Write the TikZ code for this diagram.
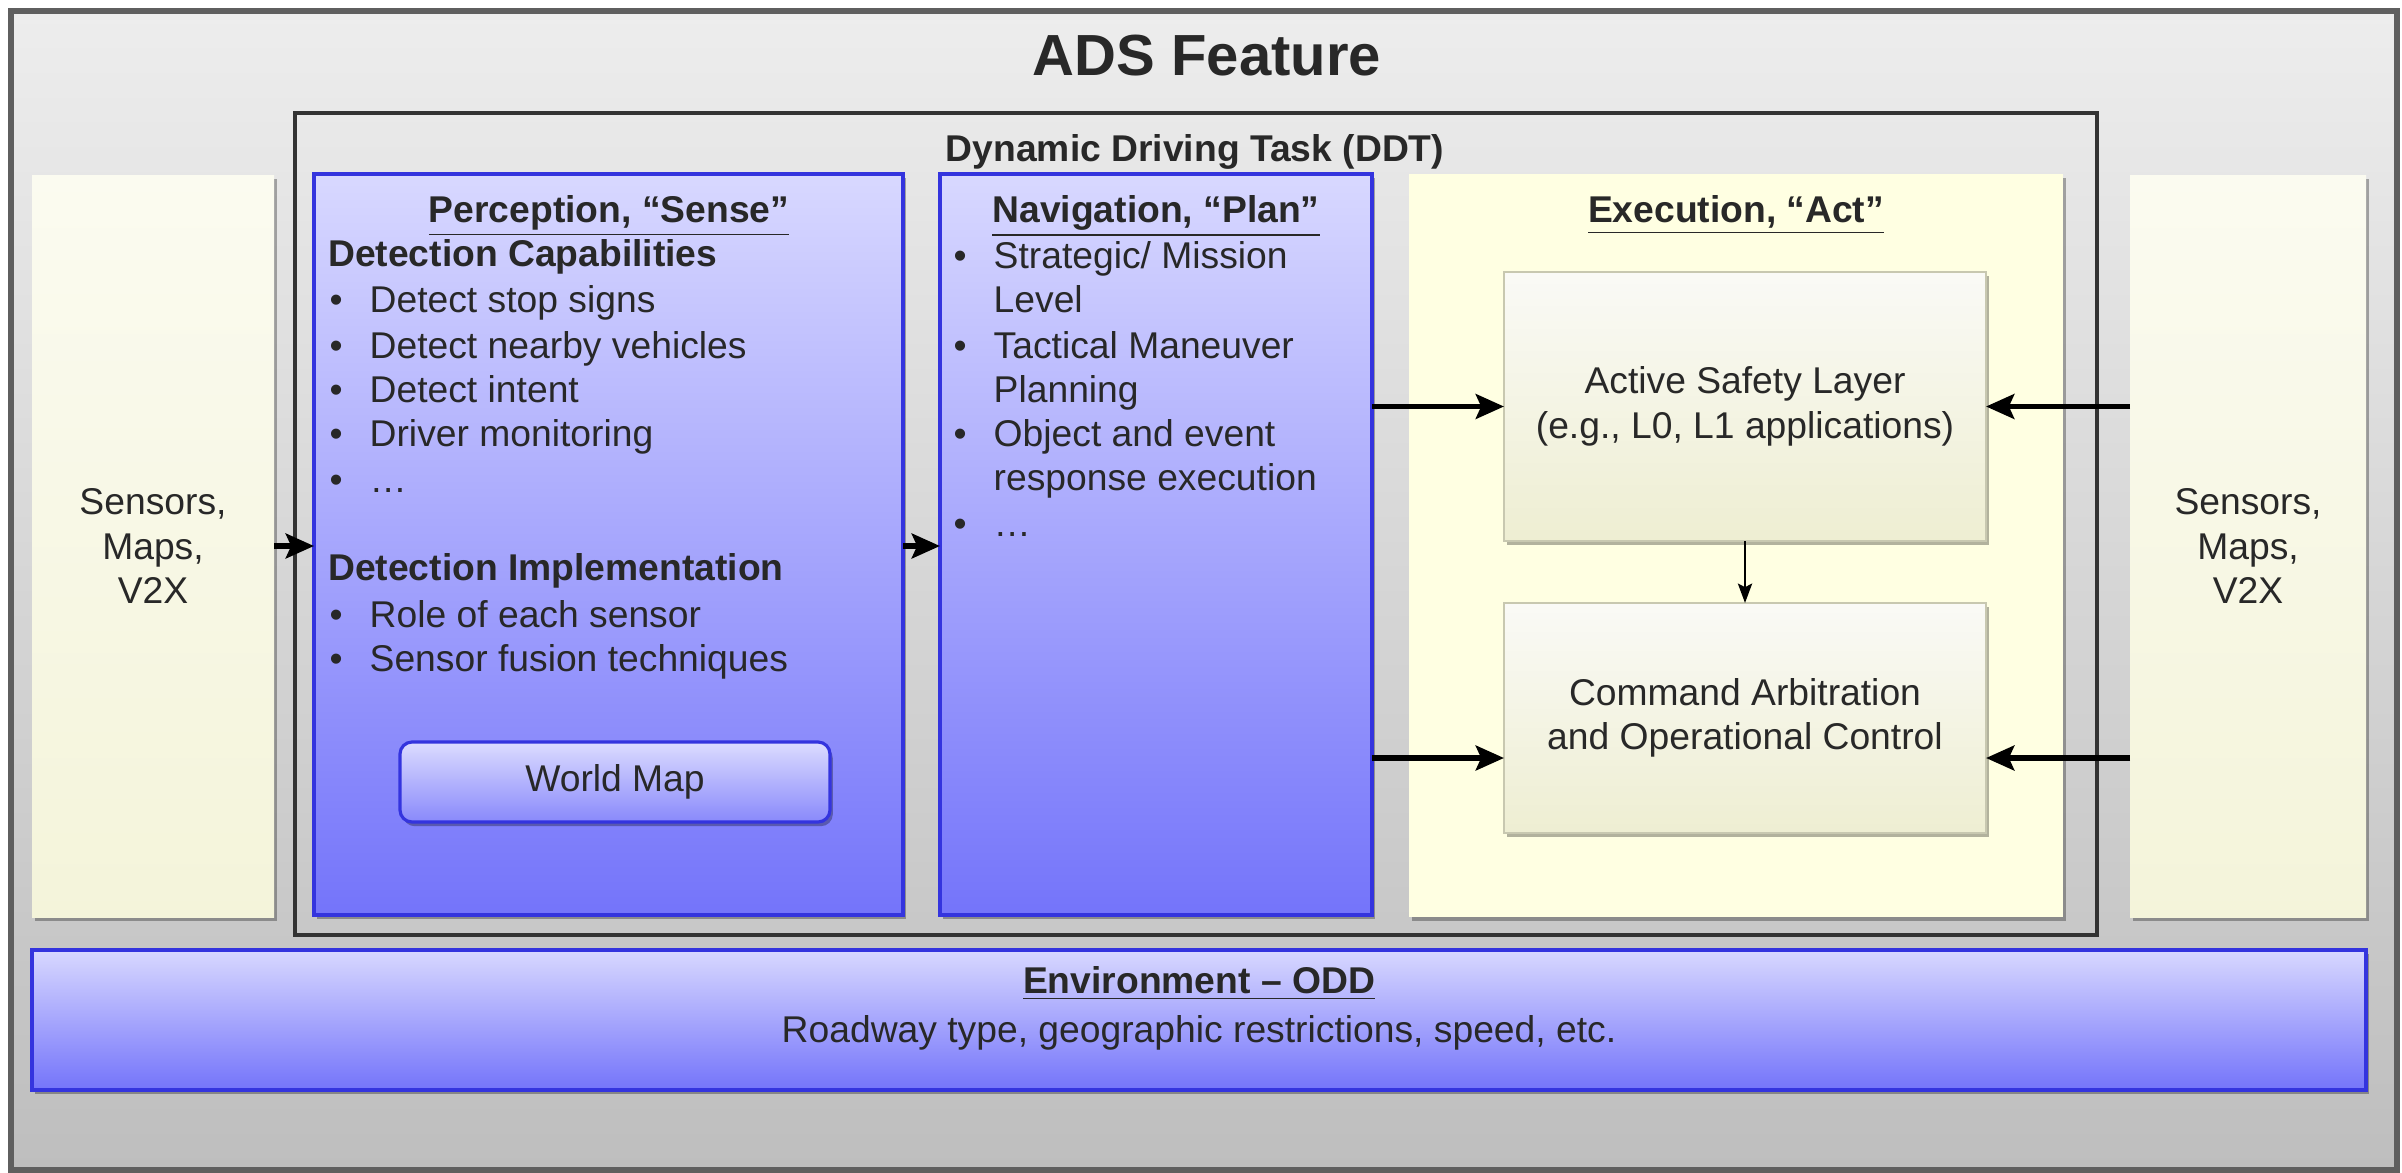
\documentclass[tikz,border=0pt]{standalone}
\usepackage{fontspec}
\setmainfont{Liberation Sans}
\usepackage{tikz}
\usetikzlibrary{arrows.meta}
\usetikzlibrary{calc}
\usetikzlibrary{shadows}

\definecolor{framegray}{RGB}{95,95,95}
\definecolor{bgtop}{RGB}{237,237,237}
\definecolor{bgbottom}{RGB}{190,190,190}
\definecolor{bluetop}{RGB}{216,216,255}
\definecolor{bluebottom}{RGB}{116,116,250}
\definecolor{blueline}{RGB}{52,52,222}
\definecolor{creamtop}{RGB}{251,251,240}
\definecolor{creambottom}{RGB}{244,244,218}
\definecolor{actfill}{RGB}{255,255,226}
\definecolor{laytop}{RGB}{250,250,246}
\definecolor{laybottom}{RGB}{238,238,210}
\definecolor{layline}{RGB}{200,200,176}
\definecolor{txtgray}{RGB}{40,40,40}

\newcommand{\adsbody}{\fontsize{10.6}{12.6}\selectfont}
\newcommand{\adsbig}{\fontsize{16.5}{19}\selectfont\bfseries}
\newcommand{\adsitem}{\makebox[0.40cm][l]{\textbullet}}

\begin{document}
\begin{tikzpicture}[x=1cm, y=-1cm,
    box/.style={anchor=north west, inner sep=0pt, outer sep=0pt},
    boxshadow/.style={drop shadow={shadow xshift=0.8pt, shadow yshift=-1.2pt, opacity=0.3, fill=black}},
    bluebox/.style={box, boxshadow, draw=blueline, line width=0.9pt, top color=bluetop, bottom color=bluebottom},
    creambox/.style={box, boxshadow, top color=creamtop, bottom color=creambottom, text=txtgray, font=\adsbody, align=center},
    layerbox/.style={box, boxshadow, draw=layline, line width=0.5pt, top color=laytop, bottom color=laybottom, text=txtgray, font=\adsbody, align=center},
    txt/.style={anchor=base west, inner sep=0pt, text=txtgray, font=\adsbody},
    head/.style={anchor=base, inner sep=0pt, text=txtgray, font=\adsbody\bfseries},
    bigarrow/.style={line width=1.7pt, -{Stealth[length=8pt, width=7pt, inset=1.5pt]}},
    thinarrow/.style={line width=0.8pt, -{Stealth[length=5.5pt, width=4pt, inset=1pt]}}
  ]
  \useasboundingbox (0,0) rectangle (24.02,11.72);

  \node[box, draw=framegray, line width=1.5pt, top color=bgtop, bottom color=bgbottom,
    minimum width=23.86cm, minimum height=11.59cm] (ads) at (0.11,0.11) {};
  \node[anchor=base, inner sep=0pt, text=txtgray, font=\adsbig] (adstitle) at (12.07,0.75) {ADS Feature};

  \node[box, draw=black!80, line width=1.2pt, minimum width=18.02cm, minimum height=8.22cm] (ddt) at (2.95,1.13) {};
  \node[head] (ddttitle) at (11.95,1.61) {Dynamic Driving Task (DDT)};

  \node[creambox, minimum width=2.42cm, minimum height=7.42cm] (lsens) at (0.32,1.75) {Sensors,\\Maps,\\V2X};
  \node[creambox, minimum width=2.36cm, minimum height=7.42cm] (rsens) at (21.30,1.75) {Sensors,\\Maps,\\V2X};

  \node[bluebox, minimum width=5.89cm, minimum height=7.41cm] (perc) at (3.14,1.74) {};
  \node[head] (perctitle) at (6.09,2.22) {\underline{Perception, “Sense”}};
  \node[txt, font=\adsbody\bfseries] (pcap) at (3.275,2.66) {Detection Capabilities};
  \node[txt] (pcap1) at (3.29,3.12) {\adsitem Detect stop signs};
  \node[txt] (pcap2) at (3.29,3.58) {\adsitem Detect nearby vehicles};
  \node[txt] (pcap3) at (3.29,4.02) {\adsitem Detect intent};
  \node[txt] (pcap4) at (3.29,4.46) {\adsitem Driver monitoring};
  \node[txt] (pcap5) at (3.29,4.92) {\adsitem …};
  \node[txt, font=\adsbody\bfseries] (pimp) at (3.275,5.80) {Detection Implementation};
  \node[txt] (pimp1) at (3.29,6.27) {\adsitem Role of each sensor};
  \node[txt] (pimp2) at (3.29,6.71) {\adsitem Sensor fusion techniques};
  \node[box, boxshadow, draw=blueline, line width=0.9pt, rounded corners=0.12cm,
    top color=bluetop!90!white, bottom color=bluebottom!85!white, text=txtgray, font=\adsbody,
    minimum width=4.30cm, minimum height=0.80cm] (wmap) at (4.00,7.42) {World Map};

  \node[bluebox, minimum width=4.32cm, minimum height=7.41cm] (nav) at (9.40,1.74) {};
  \node[head] (navtitle) at (11.56,2.22) {\underline{Navigation, “Plan”}};
  \node[txt] (nav1) at (9.53,2.68) {\adsitem Strategic/ Mission};
  \node[txt] (nav1b) at (9.93,3.12) {Level};
  \node[txt] (nav2) at (9.53,3.58) {\adsitem Tactical Maneuver};
  \node[txt] (nav2b) at (9.93,4.02) {Planning};
  \node[txt] (nav3) at (9.53,4.46) {\adsitem Object and event};
  \node[txt] (nav3b) at (9.93,4.90) {response execution};
  \node[txt] (nav4) at (9.53,5.36) {\adsitem …};

  \node[box, boxshadow, fill=actfill, minimum width=6.54cm, minimum height=7.43cm] (act) at (14.09,1.74) {};
  \node[head] (acttitle) at (17.36,2.22) {\underline{Execution, “Act”}};
  \node[layerbox, minimum width=4.82cm, minimum height=2.69cm] (asl) at (15.04,2.72)
    {Active Safety Layer\\(e.g., L0, L1 applications)};
  \node[layerbox, minimum width=4.82cm, minimum height=2.30cm] (cmd) at (15.04,6.03)
    {Command Arbitration\\and Operational Control};

  \node[bluebox, minimum width=23.34cm, minimum height=1.40cm] (env) at (0.32,9.50) {};
  \node[head] (envtitle) at (11.99,9.93) {\underline{Environment – ODD}};
  \node[anchor=base, inner sep=0pt, text=txtgray, font=\adsbody] (envtext) at (11.99,10.42)
    {Roadway type, geographic restrictions, speed, etc.};

  \draw[bigarrow] (lsens.east) -- (perc.west |- lsens.east);
  \draw[bigarrow] (perc.east |- lsens.east) -- (nav.west |- lsens.east);
  \draw[bigarrow] (nav.east |- asl.west) -- (asl.west);
  \draw[bigarrow] (nav.east |- cmd.west) ++(0,0.40) -- ([yshift=-0.40cm]cmd.west);
  \draw[bigarrow] (rsens.west |- asl.east) -- (asl.east);
  \draw[bigarrow] (rsens.west |- cmd.east) ++(0,0.40) -- ([yshift=-0.40cm]cmd.east);
  \draw[thinarrow] (asl.south) -- (cmd.north);
\end{tikzpicture}
\end{document}
